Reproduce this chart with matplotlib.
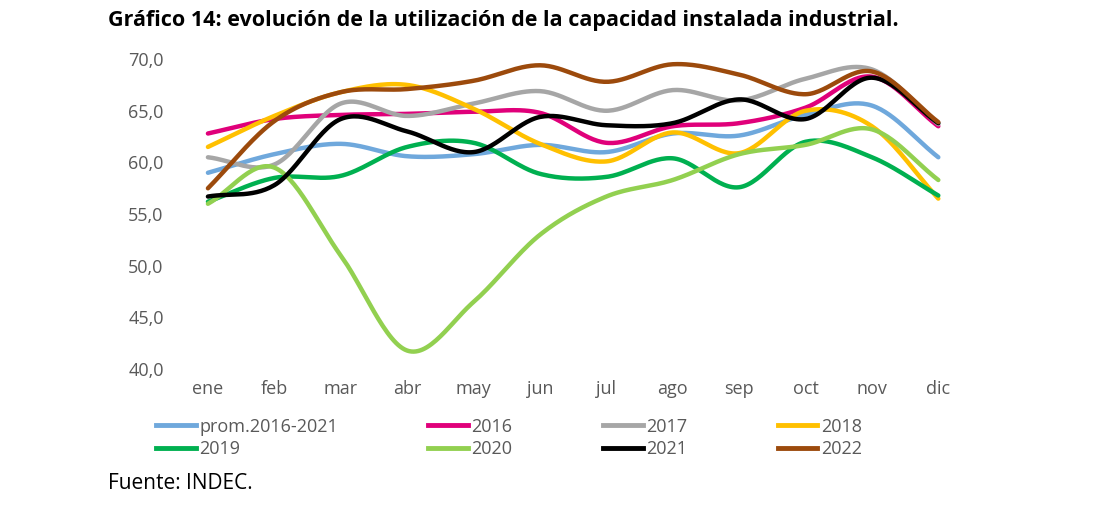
import numpy as np
import matplotlib
matplotlib.use("Agg")
import matplotlib.pyplot as plt
from matplotlib.lines import Line2D

plt.rcParams['font.family'] = ['Open Sans', 'DejaVu Sans']

months = ["ene","feb","mar","abr","may","jun","jul","ago","sep","oct","nov","dic"]
prom = [59.0,60.8,61.8,60.6,60.8,61.7,61.0,62.8,62.6,64.6,65.5,60.5]
y2016 = [62.8,64.2,64.6,64.7,64.9,64.8,61.9,63.5,63.8,65.3,68.3,63.5]
y2017 = [60.5,59.8,65.7,64.5,65.7,66.9,65.0,67.0,66.0,68.1,69.0,63.7]
y2018 = [61.5,64.5,66.8,67.5,65.2,61.8,60.1,62.9,60.9,65.0,63.5,56.5]
y2019 = [56.2,58.5,58.7,61.5,61.9,58.9,58.6,60.4,57.6,62.0,60.5,56.8]
y2020 = [56.0,59.5,51.0,41.8,46.5,53.0,56.7,58.3,60.8,61.7,63.2,58.3]
y2021 = [56.7,57.8,64.2,63.0,61.0,64.4,63.6,63.8,66.1,64.2,68.2,63.8]
y2022 = [57.5,64.0,66.8,67.1,67.9,69.4,67.8,69.5,68.5,66.6,68.8,63.9]

series = [("prom.2016-2021", prom, "#6fa8dc"), ("2016", y2016, "#e0007a"),
          ("2017", y2017, "#a6a6a6"), ("2018", y2018, "#ffc000"),
          ("2019", y2019, "#00b050"), ("2020", y2020, "#92d050"),
          ("2021", y2021, "#000000"), ("2022", y2022, "#9c4a0c")]

def smooth(y, n=30):
    y = np.asarray(y, float); x = np.arange(len(y))
    m = np.gradient(y)
    xs, ys = [], []
    for i in range(len(y)-1):
        t = np.linspace(0, 1, n, endpoint=False)
        h00 = 2*t**3-3*t**2+1; h10 = t**3-2*t**2+t
        h01 = -2*t**3+3*t**2; h11 = t**3-t**2
        xs.append(x[i]+t)
        ys.append(h00*y[i]+h10*m[i]+h01*y[i+1]+h11*m[i+1])
    xs.append([x[-1]]); ys.append([y[-1]])
    return np.concatenate(xs), np.concatenate(ys)

fig = plt.figure(figsize=(10.99, 5.05), dpi=100)
ax = fig.add_axes([0.159, 0.269, 0.725, 0.614])
for name, vals, c in series:
    xs, ys = smooth(vals)
    ax.plot(xs, ys, color=c, lw=3.2, solid_capstyle='round')
ax.set_xlim(-0.5, 11.5)
ax.set_ylim(40, 70)
ax.set_yticks(np.arange(40, 71, 5))
ax.set_yticklabels([f"{v:.1f}".replace(".", ",") for v in np.arange(40, 71, 5)])
ax.set_xticks(range(12))
ax.set_xticklabels(months)
ax.tick_params(length=0, labelsize=13, colors="#595959", pad=8)
for s in ax.spines.values():
    s.set_visible(False)

order = [0, 4, 1, 5, 2, 6, 3, 7]
handles = [Line2D([0],[0], color=series[i][2], lw=3.5) for i in order]
labels = [series[i][0] for i in order]
fig.legend(handles, labels, ncol=4, loc="upper left",
           bbox_to_anchor=(0.127, 0.205), frameon=False, fontsize=13,
           handlelength=2.2, handletextpad=0.2, columnspacing=5.0,
           labelspacing=0.25, labelcolor="#595959")
fig.text(0.098, 0.96, "Gráfico 14: evolución de la utilización de la capacidad instalada industrial.",
         fontsize=15.5, fontweight="bold", va="center")
fig.text(0.098, 0.043, "Fuente: INDEC.", fontsize=15, va="center")
fig.savefig("out.png", dpi=100)
